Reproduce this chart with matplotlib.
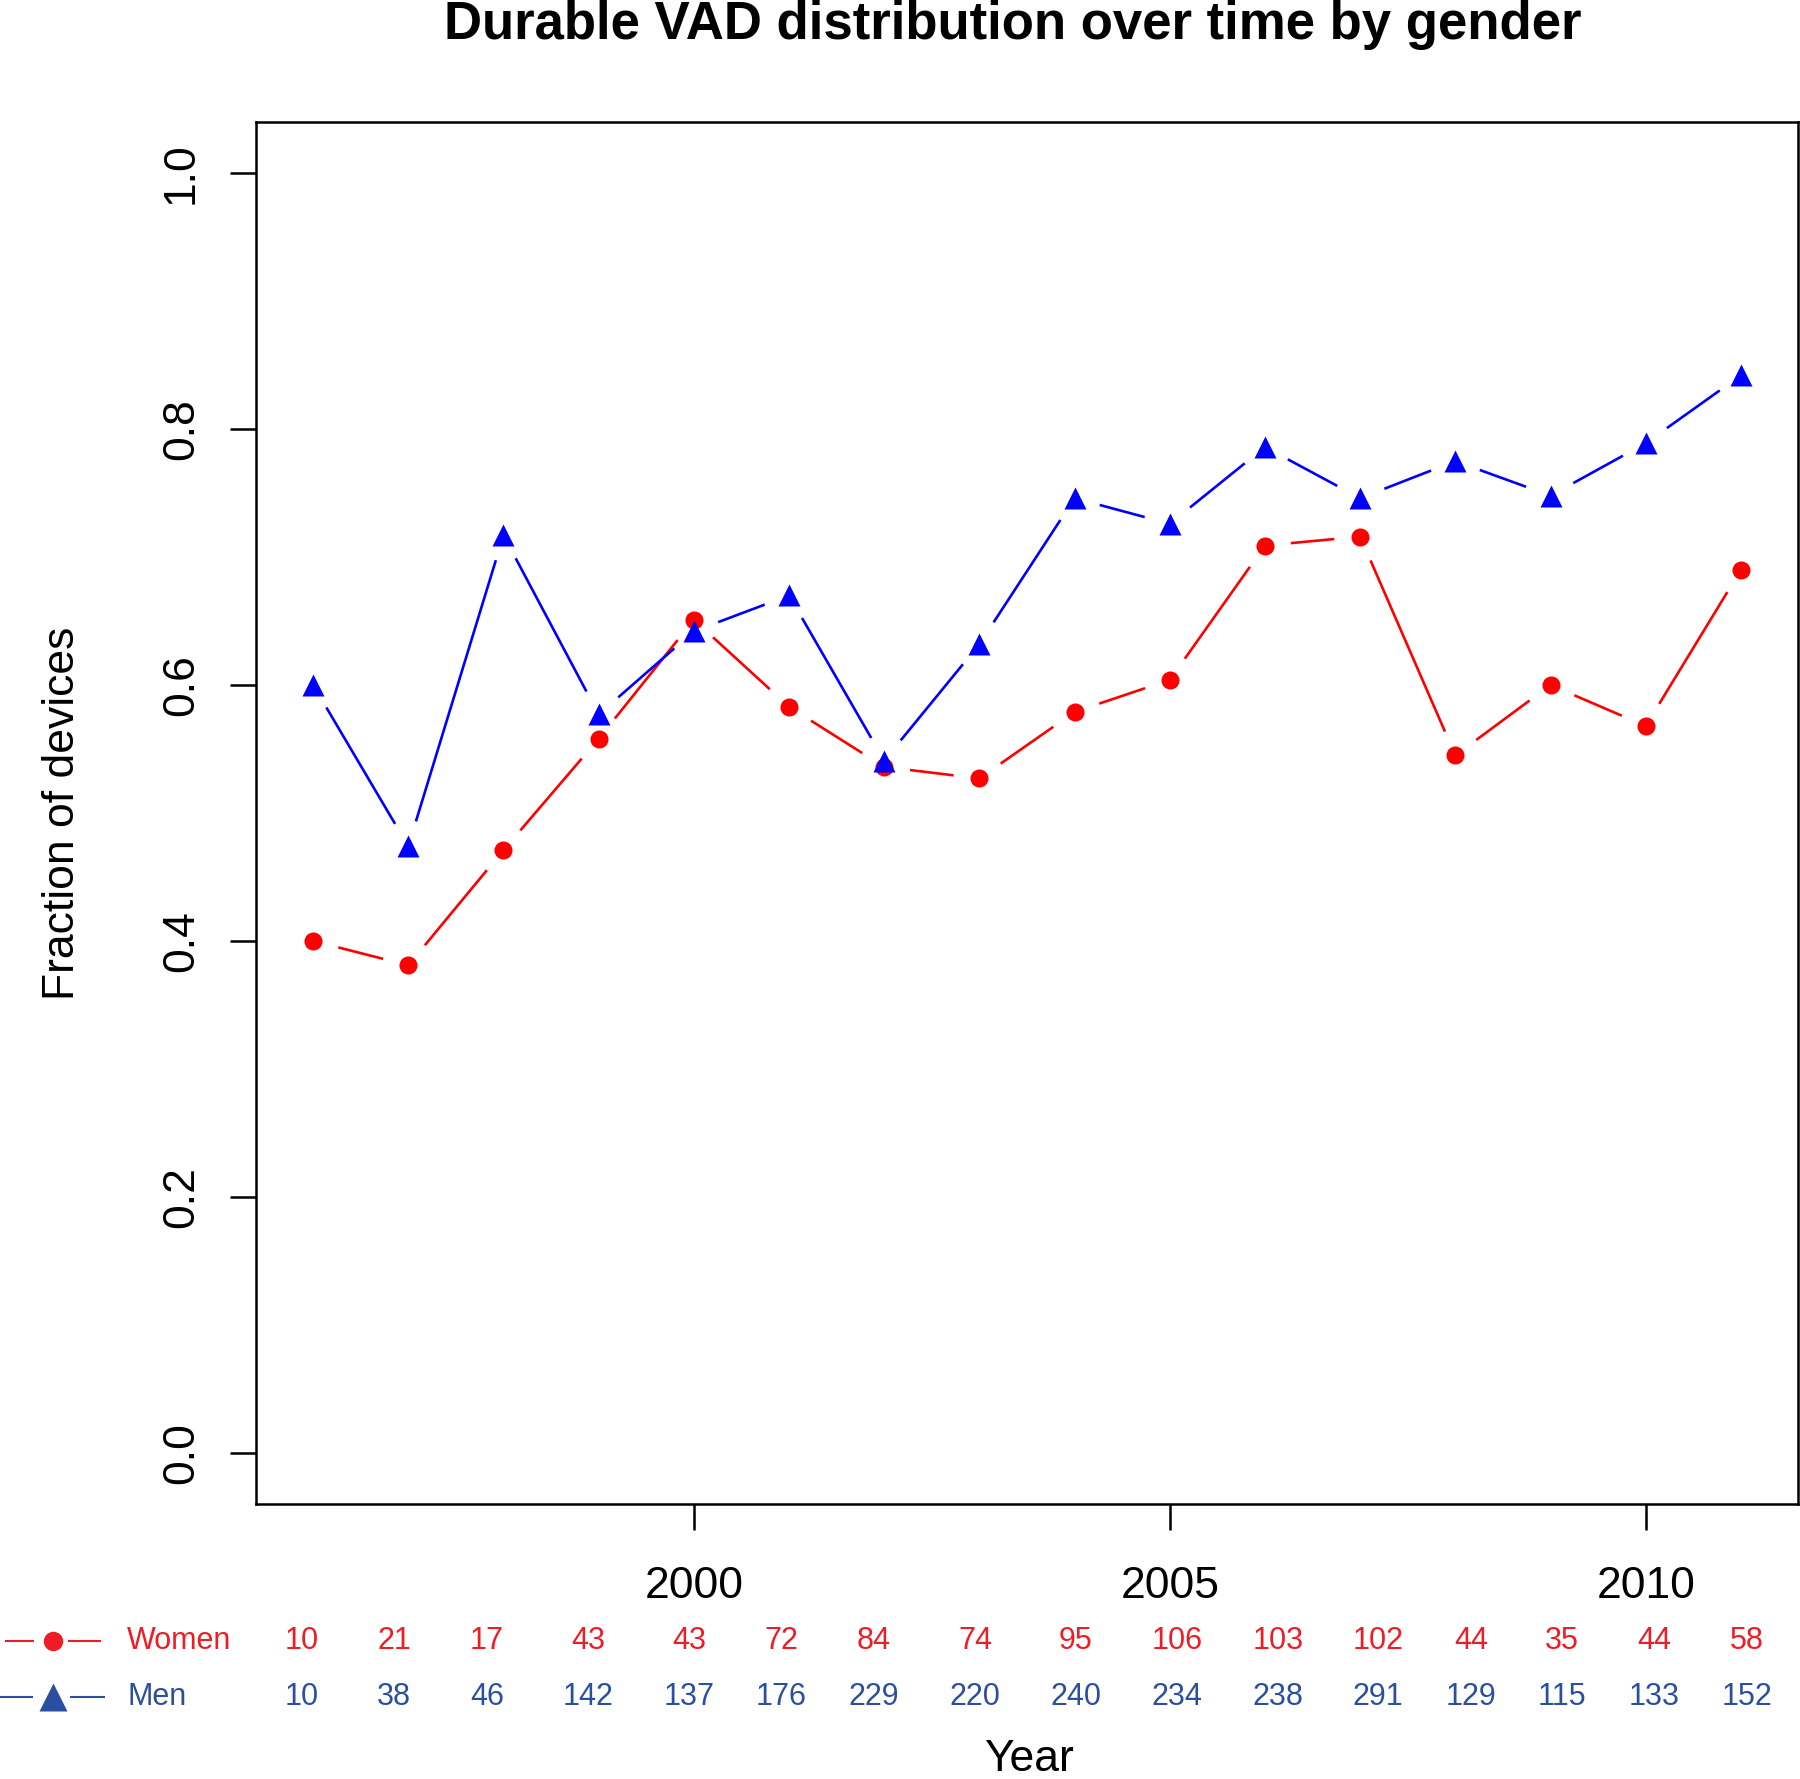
import numpy as np
import matplotlib
matplotlib.use('Agg')
import matplotlib.pyplot as plt

plt.rcParams['font.family'] = ['Liberation Sans', 'DejaVu Sans']

years = list(range(1996, 2012))
women_frac = [0.400, 0.381, 0.471, 0.558, 0.651, 0.583, 0.536, 0.527,
              0.579, 0.604, 0.709, 0.716, 0.545, 0.600, 0.568, 0.690]
men_frac = [0.600, 0.474, 0.717, 0.577, 0.642, 0.670, 0.541, 0.632,
            0.746, 0.726, 0.786, 0.746, 0.775, 0.748, 0.789, 0.842]
women_n = [10, 21, 17, 43, 43, 72, 84, 74, 95, 106, 103, 102, 44, 35, 44, 58]
men_n = [10, 38, 46, 142, 137, 176, 229, 220, 240, 234, 238, 291, 129, 115, 133, 152]
x_ticks = [2000, 2005, 2010]
y_ticks = [0.0, 0.2, 0.4, 0.6, 0.8, 1.0]

RED = '#ff0000'
BLUE = '#0000ff'
RED_TXT = '#ee1c25'
BLUE_TXT = '#2b4fa0'

W, H = 1800, 1779
# column centres of the counts table (pixels)
col_x = [302, 394, 487, 588, 689, 781, 874, 975, 1076, 1177, 1278, 1378, 1471, 1562, 1654, 1747]

fig = plt.figure(figsize=(W / 100, H / 100), dpi=100)
ax = fig.add_axes([256 / W, 1 - 1504 / H, (1798 - 256) / W, (1504 - 122) / H])
ax.set_xlim(1995.4, 2011.6)
ax.set_ylim(-0.04, 1.04)


def gapped_line(xs, ys, color, gap=26):
    # R type="b": segments stop short of each point
    pts = ax.transData.transform(np.column_stack([xs, ys]))
    inv = ax.transData.inverted()
    for p0, p1 in zip(pts[:-1], pts[1:]):
        d = p1 - p0
        L = np.hypot(*d)
        if L <= 2 * gap:
            continue
        u = d / L
        seg = inv.transform(np.array([p0 + u * gap, p1 - u * gap]))
        ax.plot(seg[:, 0], seg[:, 1], color=color, lw=1.9, solid_capstyle='butt')


gapped_line(years, women_frac, RED)
ax.plot(years, women_frac, 'o', color=RED, ms=13, mec='none')
gapped_line(years, men_frac, BLUE)
ax.plot(years, men_frac, '^', color=BLUE, ms=16.5, mec='none')

for s in ax.spines.values():
    s.set_linewidth(1.8)
ax.set_xticks(x_ticks)
ax.set_xticklabels([str(t) for t in x_ticks], fontsize=32)
ax.set_yticks(y_ticks)
ax.set_yticklabels(['%.1f' % t for t in y_ticks], fontsize=32, rotation=90, va='center')
ax.tick_params(axis='both', length=19, width=1.8, direction='out')
ax.tick_params(axis='x', pad=26)
ax.tick_params(axis='y', pad=20)

ax.set_ylabel('Fraction of devices', fontsize=32, labelpad=56)

fig.text(1013 / W, 1 - 39 / H, 'Durable VAD distribution over time by gender',
         fontsize=38, fontweight='bold', ha='center', va='baseline')

# counts table under the axis
y_w = 1 - 1641 / H
y_m = 1 - 1697 / H
for cx, n in zip(col_x, women_n):
    fig.text(cx / W, y_w, str(n), color=RED_TXT, fontsize=22, ha='center', va='center')
for cx, n in zip(col_x, men_n):
    fig.text(cx / W, y_m, str(n), color=BLUE_TXT, fontsize=22, ha='center', va='center')

# legend keys at far left
fig.add_artist(plt.Line2D([6 / W, 33 / W], [y_w, y_w], color=RED_TXT, lw=1.5))
fig.add_artist(plt.Line2D([69 / W, 100 / W], [y_w, y_w], color=RED_TXT, lw=1.5))
fig.add_artist(plt.Line2D([53 / W], [y_w], marker='o', color=RED_TXT, ms=14, mec='none'))
fig.text(127 / W, y_w, 'Women', color=RED_TXT, fontsize=22, ha='left', va='center')
fig.add_artist(plt.Line2D([0 / W, 32 / W], [y_m, y_m], color=BLUE_TXT, lw=1.5))
fig.add_artist(plt.Line2D([71 / W, 104 / W], [y_m, y_m], color=BLUE_TXT, lw=1.5))
fig.add_artist(plt.Line2D([53 / W], [y_m], marker='^', color=BLUE_TXT, ms=20, mec='none'))
fig.text(127 / W, y_m, 'Men', color=BLUE_TXT, fontsize=22, ha='left', va='center')

fig.text(1029 / W, 1 - 1771 / H, 'Year', fontsize=32, ha='center', va='baseline')

fig.savefig('out.png', dpi=100)
